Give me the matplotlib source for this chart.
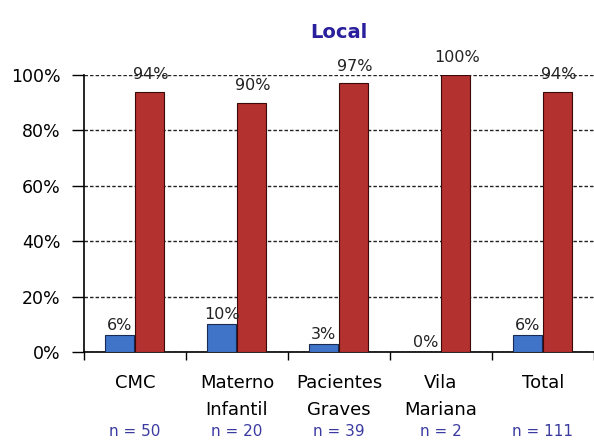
import matplotlib.pyplot as plt
import numpy as np
from matplotlib import transforms

# Data
categories = ['CMC', 'Materno\nInfantil', 'Pacientes\nGraves', 'Vila\nMariana', 'Total']
n_labels = ['n = 50', 'n = 20', 'n = 39', 'n = 2', 'n = 111']
blue_vals = [6, 10, 3, 0, 6]
red_vals = [94, 90, 97, 100, 94]

BLUE = '#3f74c8'
RED = '#b3312f'

fig = plt.figure(figsize=(5.94, 4.42), dpi=100)
left_px, cat_px = 84, 103
ax = fig.add_axes([left_px / 594, 1 - 352 / 442, 1 - left_px / 594, (352 - 75) / 442])

x = np.arange(len(categories))
w = 0.28
ax.bar(x - 0.15, blue_vals, width=w, color=BLUE, edgecolor='#1a2a50', linewidth=0.8, zorder=3)
ax.bar(x + 0.14, red_vals, width=w, color=RED, edgecolor='#3a0a0a', linewidth=0.8, zorder=3)

for xi, b, r in zip(x, blue_vals, red_vals):
    ax.annotate(f'{b}%', (xi - 0.15, b), xytext=(0, 1.5), textcoords='offset points',
                ha='center', va='bottom', fontsize=11.5, color='#222222', zorder=4)
    ax.annotate(f'{r}%', (xi + 0.14, r), xytext=(1, 7), textcoords='offset points',
                ha='center', va='bottom', fontsize=11.5, color='#222222', zorder=4)

ax.set_ylim(0, 100)
ax.set_xlim(-0.5, (594 - left_px) / cat_px - 0.5)
ax.set_yticks(range(0, 101, 20))
ax.set_yticklabels([f'{v}%' for v in range(0, 101, 20)], fontsize=12.5)
ax.yaxis.grid(True, color='#222222', linewidth=1, linestyle=(0, (2.5, 1.5)))
ax.set_axisbelow(True)

# category boundaries as tick marks, labels at centres
ax.set_xticks(np.arange(-0.5, len(categories), 1.0))
ax.set_xticklabels([])
ax.set_xticks(x, minor=True)
ax.set_xticklabels(categories, minor=True, fontsize=13, linespacing=1.6)
ax.tick_params(axis='x', which='major', direction='out', length=6, width=1)
ax.tick_params(axis='x', which='minor', length=0, pad=16)
ax.tick_params(axis='y', direction='out', length=9, width=1, pad=8)

trans = transforms.blended_transform_factory(ax.transData, fig.transFigure)
for xi, lab in zip(x, n_labels):
    ax.text(xi, 1 - 432 / 442, lab, transform=trans, ha='center', va='center',
            fontsize=11, color='#3a3aa0')

for side in ['top', 'right']:
    ax.spines[side].set_visible(False)
ax.spines['left'].set_linewidth(1.2)
ax.spines['bottom'].set_linewidth(1.2)

fig.text((left_px + 594) / 2 / 594, 1 - 33 / 442, 'Local', ha='center', va='center',
         fontsize=14, fontweight='bold', color='#2a1f9c')

fig.savefig('out.png', dpi=100)
